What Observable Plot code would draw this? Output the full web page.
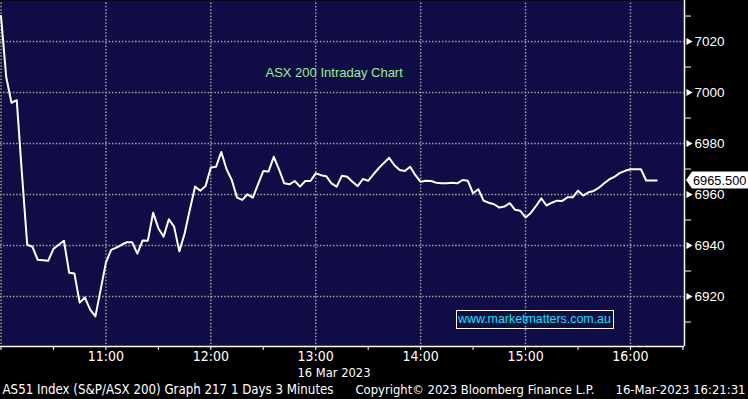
<!DOCTYPE html>
<html><head><meta charset="utf-8">
<script src="https://cdn.jsdelivr.net/npm/d3@7"></script>
<script src="https://cdn.jsdelivr.net/npm/@observablehq/plot@0.6"></script>
<style>
html,body{margin:0;padding:0;background:#000;}
#chart{position:relative;width:748px;height:399px;overflow:hidden;background:#000;}
#chart .wm{position:absolute;left:456px;top:310px;width:158px;height:19px;box-sizing:border-box;border:1.5px solid #fff;color:#14e2ea;font:12.4px 'Liberation Sans',Arial,sans-serif;line-height:16px;padding-left:1px;white-space:nowrap;}
#chart .last{position:absolute;}
</style></head><body><div id="chart"></div>
<script>
// ---- data ----
const startTime = "2023-03-16T10:00:00Z";
const stepMinutes = 3;
const values = [
  7030, 7006, 6996, 6997, 6968, 6940.3, 6939.5, 6934.4, 6934.2, 6934,
  6938.7, 6940.3, 6941.9, 6929.3, 6929, 6917.6, 6919.6, 6914.9, 6912.2, 6922.7,
  6933.3, 6938.3, 6939.2, 6940.3, 6941.3, 6941.3, 6936.8, 6942, 6941.9, 6952.9,
  6946.8, 6943.5, 6950.3, 6947.4, 6937.7, 6944.6, 6954, 6963.1, 6961.5, 6963.3,
  6970.6, 6970.9, 6976.7, 6969.9, 6965.7, 6958.8, 6957.9, 6960.1, 6958.8, 6964,
  6969.2, 6969, 6974.8, 6969.9, 6964.4, 6964, 6965.3, 6963.1, 6965.3, 6965.3,
  6968.3, 6967.6, 6967.2, 6964.4, 6963.1, 6967.4, 6967, 6965, 6963.3, 6966.1,
  6965.4, 6967.9, 6970.3, 6972.4, 6974.4, 6971.5, 6969.6, 6969.2, 6970.9, 6967.6,
  6965, 6965.4, 6965.3, 6964.6, 6964.4, 6964.4, 6964.6, 6964.4, 6965.7, 6965.4,
  6960.5, 6962.1, 6957.6, 6956.8, 6956.2, 6954.9, 6955.3, 6956.6, 6954, 6953.6,
  6951, 6952.8, 6955.5, 6958.5, 6955.7, 6956.8, 6957.6, 6957.5, 6958.9, 6958.9,
  6961.5, 6959.6, 6960.9, 6961.4, 6962.7, 6964.4, 6966, 6967, 6968.5, 6969.3,
  6969.9, 6969.9, 6969.9, 6965.5, 6965.5, 6965.5
];
const xDomain = ["2023-03-16T09:59:43Z", "2023-03-16T16:30:55Z"];
const yDomain = [6900.4, 7036.1];
const yLabelTicks = [6920, 6940, 6960, 6980, 7000, 7020];
const yMinorTicks = [6910, 6930, 6950, 6970, 6990, 7010, 7030];
const xTickStart = "2023-03-16T10:00:00Z";
const xTickEnd = "2023-03-16T16:30:00Z";
const title = "ASX 200 Intraday Chart";
const watermark = "www.marketmatters.com.au";
const dateLabel = "16 Mar 2023";
const footerLeft = "AS51 Index (S&P/ASX 200) Graph 217 1 Days 3 Minutes";
const footerMid = "Copyright\u00A9 2023 Bloomberg Finance L.P.";
const footerRight = "16-Mar-2023 16:21:31";
const lastLabel = "6965.500";
const lastValue = 6965.5;

// ---- layout ----
const W = 748, H = 399, mRight = 64, mBottom = 53;
const plotW = W - mRight, plotH = H - mBottom;
const dotGap = 3.3; // px between grid dots

// ---- build ----
const t0 = new Date(startTime);
const data = values.map((v, i) => ({t: new Date(+t0 + i * stepMinutes * 60000), v}));
const xd = xDomain.map(d => new Date(d));
const halfHours = d3.utcMinute.every(30).range(new Date(xTickStart), new Date(+new Date(xTickEnd) + 1));
const hours = halfHours.filter(d => d.getUTCMinutes() === 0);
const fmt = d3.utcFormat("%H:%M");
const narrow = "'Liberation Sans Narrow','DejaVu Sans Condensed','Arial Narrow',sans-serif";
const footStyle = {frameAnchor: "bottom-left", textAnchor: "start", lineAnchor: "middle", fill: "#fff", fontFamily: narrow, fontSize: 14};

// dotted grid: dots along each hour line and each labelled value line
const yStep = (yDomain[1] - yDomain[0]) * dotGap / plotH;
const xStepMs = (xd[1] - xd[0]) * dotGap / plotW;
const gridDots = [
  ...hours.flatMap(h => d3.range(yDomain[0], yDomain[1], yStep).map(v => ({t: h, v}))),
  ...yLabelTicks.flatMap(v => d3.range(+xd[0], +xd[1], xStepMs).map(ms => ({t: new Date(ms), v})))
];

const plot = Plot.plot({
  width: W, height: H,
  marginLeft: 0, marginRight: mRight, marginTop: 0, marginBottom: mBottom,
  style: {background: "#000", color: "#fff", fontFamily: "'Liberation Sans',Arial,sans-serif", fontSize: "13px", overflow: "visible"},
  x: {type: "utc", domain: xd, label: null},
  y: {domain: yDomain, label: null},
  marks: [
    Plot.frame({fill: "#100d46", stroke: null}),
    Plot.dot(gridDots, {x: "t", y: "v", symbol: "square", r: 0.85, fill: "#a0a0a0", stroke: null}),
    Plot.line(data, {x: "t", y: "v", stroke: "#fff", strokeWidth: 2, strokeLinejoin: "round"}),
    Plot.ruleY([yDomain[0]], {stroke: "#fff", strokeWidth: 1.5}),
    Plot.ruleX([xd[1]], {stroke: "#fff", strokeWidth: 1.5}),
    Plot.axisX(halfHours, {
      label: null, tickSize: 4, tickPadding: 1, stroke: "#fff", fill: "#fff", strokeOpacity: 1,
      tickFormat: d => (d.getUTCMinutes() === 0 && d.getUTCHours() > 10) ? fmt(d) : "",
      fontFamily: narrow, fontSize: 14
    }),
    Plot.axisY(yMinorTicks, {label: null, anchor: "right", tickSize: 6, tickFormat: () => "", stroke: "#fff", strokeOpacity: 1}),
    Plot.axisY(yLabelTicks, {label: null, anchor: "right", tickSize: 0, tickPadding: 10, tickFormat: d => String(d), fill: "#fff", fontSize: 13.5}),
    Plot.dot(yLabelTicks, {x: () => xd[1], y: d => d, symbol: "triangle2", r: 3.4, rotate: 90, fill: "#fff", stroke: null, dx: 4}),
    Plot.text([title], {frameAnchor: "top-left", dx: 265, dy: 72, textAnchor: "start", lineAnchor: "middle", fill: "#98ee98", fontSize: 13}),
    Plot.text([dateLabel], {...footStyle, dx: 297, dy: 26}),
    Plot.text([footerLeft], {...footStyle, dx: 2, dy: 43}),
    Plot.text([footerMid], {...footStyle, dx: 355, dy: 43}),
    Plot.text([footerRight], {...footStyle, dx: 615, dy: 43})
  ]
});
const chart = document.getElementById("chart");
chart.appendChild(plot);

// ---- fit narrow texts to the widths seen in the reference ----
const targets = new Map([[footerLeft, 331], [footerMid, 239], [footerRight, 130], [dateLabel, 73]]);
d3.select(plot).selectAll("text").each(function() {
  const s = this.textContent;
  if (!targets.has(s)) return;
  const want = targets.get(s);
  const natural = this.getComputedTextLength();
  if (natural > want) {
    const fs = Math.max(12.5, 14 * want / natural);
    this.setAttribute("font-size", fs);
    this.style.fontSize = fs + "px";
  }
  this.setAttribute("textLength", want);
  this.setAttribute("lengthAdjust", "spacingAndGlyphs");
});

// ---- watermark box ----
const wm = document.createElement("div");
wm.className = "wm";
wm.textContent = watermark;
chart.appendChild(wm);

// ---- last value label, placed with the plot's own scales ----
const px = plot.scale("x").apply(xd[1]);
const py = plot.scale("y").apply(lastValue);
const lw = W - px;
const lab = d3.create("svg").attr("class", "last").attr("width", lw).attr("height", 18)
  .style("left", px + "px").style("top", (py - 9) + "px");
lab.append("path").attr("d", `M2,9 L8,0.5 L${lw},0.5 L${lw},17.5 L8,17.5 Z`).attr("fill", "#fff");
lab.append("text").attr("x", 9).attr("y", 9).attr("dy", "0.36em").attr("fill", "#000")
  .attr("font-size", 12.8).attr("font-family", "'Liberation Sans',Arial,sans-serif").text(lastLabel);
chart.appendChild(lab.node());
</script></body></html>
